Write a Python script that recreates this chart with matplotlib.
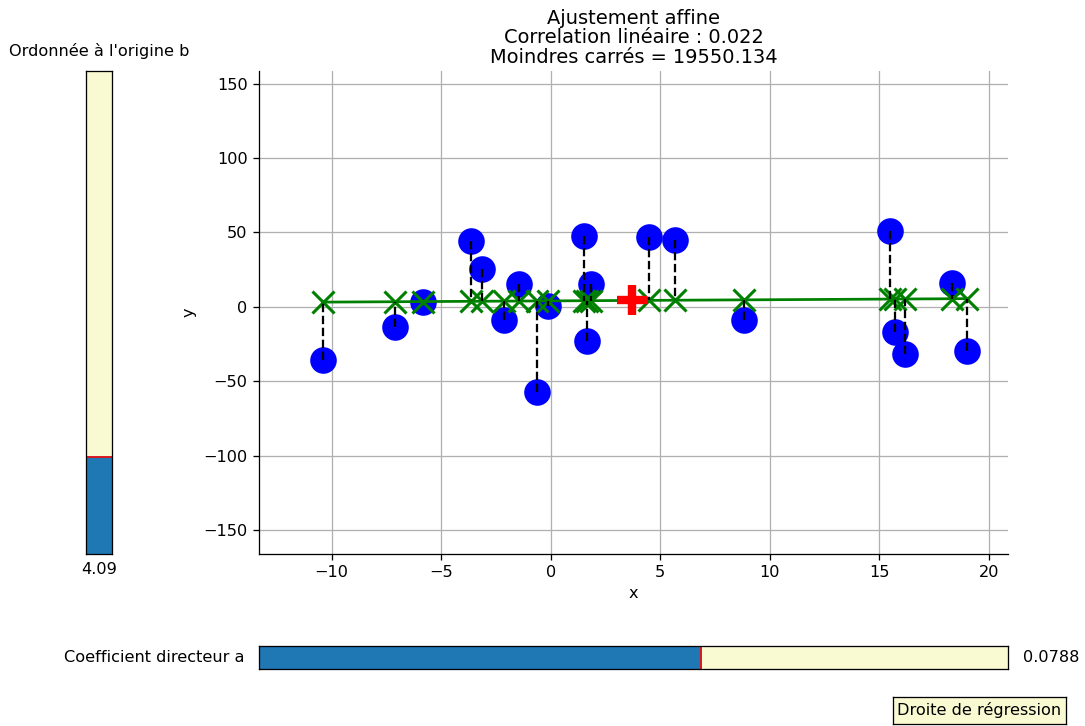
import numpy as np
import matplotlib
matplotlib.use("Agg")
import matplotlib.pyplot as plt

# Data
x_data = [-10.41, -7.11, -5.82, -3.65, -3.12, -2.12, -1.45, -0.64, -0.11, 1.51,
          1.83, 1.67, 4.50, 5.66, 8.83, 15.47, 15.74, 16.19, 18.34, 19.00]
y_data = [-35.6, -13.2, 3.2, 44.3, 25.5, -8.7, 15.4, -57.2, 0.9, 47.7,
          15.4, -22.8, 46.8, 45.0, -8.7, 51.2, -16.8, -31.7, 16.3, -29.3]
slope_a = 0.0788
intercept_b = 4.09
a_range = [-0.44, 0.44]
b_range = [-20, 100]
title_lines = ["Ajustement affine", "Correlation linéaire : 0.022", "Moindres carrés = 19550.134"]

x = np.array(x_data)
y = np.array(y_data)
y_fit = slope_a * x + intercept_b
order = np.argsort(x)

DPI = 116
W, H = 1085, 726
fig = plt.figure(figsize=(W / DPI, H / DPI), dpi=DPI)

def rect(l, t, r, b):
    return [l / W, 1 - b / H, (r - l) / W, (b - t) / H]

ax = fig.add_axes(rect(259, 70.7, 1008, 553.7))
ax.plot(x, y, 'o', color='blue', markersize=15.5, zorder=3)
ax.plot(x[order], y_fit[order], '-', color='green', lw=1.7, zorder=4)
ax.plot(x, y_fit, 'x', color='green', markersize=14, mew=1.9, zorder=4)
for xi, yi, yf in zip(x, y, y_fit):
    ax.plot([xi, xi], [yi, yf], '--', color='black', lw=1.4, zorder=5)
ax.plot([x.mean()], [y.mean()], '+', color='red', markersize=19, mew=5.2, zorder=6)
ax.set_xlim(-13.32, 20.88)
ax.set_ylim(-165.6, 158.6)
ax.set_xticks([-10, -5, 0, 5, 10, 15, 20])
ax.set_yticks([-150, -100, -50, 0, 50, 100, 150])
ax.grid(True)
ax.set_axisbelow(True)
ax.spines['top'].set_visible(False)
ax.spines['right'].set_visible(False)
ax.set_xlabel('x')
ax.set_ylabel('y')
ax.set_title("\n".join(title_lines), fontsize=12, pad=5, linespacing=1.02)

sl_color = 'lightgoldenrodyellow'

# vertical slider for b
axb = fig.add_axes(rect(86, 70.7, 112, 553.7))
axb.set_facecolor(sl_color)
axb.set_ylim(*b_range)
axb.set_xlim(0, 1)
axb.axhspan(b_range[0], intercept_b, 0, 1, color='C0')
axb.axhline(intercept_b, color='red', lw=1)
axb.set_xticks([]); axb.set_yticks([])
axb.text(0.5, 1.025, "Ordonnée à l'origine b", transform=axb.transAxes,
         ha='center', va='bottom', fontsize=10)
axb.text(0.5, -0.018, f"{intercept_b:.2f}", transform=axb.transAxes,
         ha='center', va='top', fontsize=10)

# horizontal slider for a
axa = fig.add_axes(rect(259, 646, 1008, 669))
axa.set_facecolor(sl_color)
axa.set_xlim(*a_range)
axa.set_ylim(0, 1)
axa.axvspan(a_range[0], slope_a, 0, 1, color='C0')
axa.axvline(slope_a, color='red', lw=1)
axa.set_xticks([]); axa.set_yticks([])
axa.text(-0.02, 0.5, "Coefficient directeur a", transform=axa.transAxes,
         ha='right', va='center', fontsize=10)
axa.text(1.02, 0.5, f"{slope_a:.4f}", transform=axa.transAxes,
         ha='left', va='center', fontsize=10)

# button
axbtn = fig.add_axes(rect(893, 697, 1066, 724))
axbtn.set_facecolor(sl_color)
axbtn.set_xticks([]); axbtn.set_yticks([])
axbtn.text(0.5, 0.5, "Droite de régression", transform=axbtn.transAxes,
           ha='center', va='center', fontsize=10)

fig.savefig("out.png", dpi=DPI)
